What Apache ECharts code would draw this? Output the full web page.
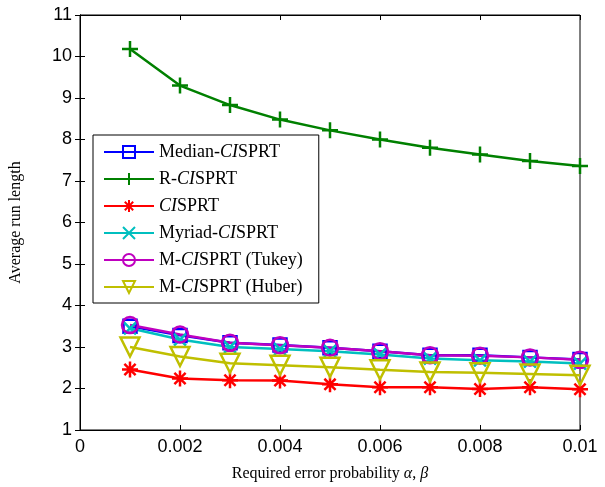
<!DOCTYPE html>
<html>
<head>
<meta charset="utf-8">
<script src="https://cdn.jsdelivr.net/npm/echarts@6/dist/echarts.min.js"></script>
<style>
  html, body { margin: 0; padding: 0; background: #fff; }
  #chart { width: 605px; height: 487px; }
</style>
</head>
<body>
<div id="chart"></div>
<script>
  // required error probability (x)
  const alphaVals = [0.001, 0.002, 0.003, 0.004, 0.005, 0.006, 0.007, 0.008, 0.009, 0.01];
  const xTicks = ['0', '0.002', '0.004', '0.006', '0.008', '0.01'];

  const medianData = [3.50, 3.28, 3.10, 3.05, 2.98, 2.90, 2.80, 2.80, 2.75, 2.70];
  const rData      = [10.18, 9.30, 8.83, 8.48, 8.22, 8.00, 7.80, 7.64, 7.48, 7.36];
  const ciData     = [2.46, 2.24, 2.20, 2.19, 2.10, 2.03, 2.03, 1.99, 2.03, 1.98];
  const myriadData = [3.45, 3.18, 3.00, 2.95, 2.90, 2.82, 2.72, 2.68, 2.65, 2.60];
  const tukeyData  = [3.53, 3.30, 3.10, 3.04, 2.98, 2.90, 2.80, 2.79, 2.75, 2.69];
  const huberData  = [3.00, 2.77, 2.61, 2.56, 2.51, 2.45, 2.40, 2.38, 2.35, 2.32];

  const names = ['Median-CISPRT', 'R-CISPRT', 'CISPRT', 'Myriad-CISPRT', 'M-CISPRT (Tukey)', 'M-CISPRT (Huber)'];

  let myChart = echarts.init(document.getElementById('chart'));

  function pairs(arr) {
    return arr.map((v, i) => [alphaVals[i], v]);
  }

  function mkSeries(name, data, color, symbol, size) {
    return {
      name: name,
      type: 'line',
      data: pairs(data),
      symbol: symbol,
      symbolSize: size,
      lineStyle: { color: color, width: 2.5 },
      itemStyle: { color: 'rgba(0,0,0,0)', borderColor: color, borderWidth: 2.5 },
      emphasis: { disabled: true },
      z: 2
    };
  }

  const plusPath = 'path://M0,-1L0,1M-1,0L1,0';
  const starPath = 'path://M0,-1L0,1M-1,0L1,0M-0.7,-0.7L0.7,0.7M-0.7,0.7L0.7,-0.7';
  const xPath = 'path://M-1,-1L1,1M-1,1L1,-1';
  const triPath = 'path://M-1,-0.9L1,-0.9L0,0.9Z';

  myChart.setOption({
    animation: false,
    grid: {
      left: 77, right: 25, top: 15, bottom: 56,
      show: true, borderColor: '#000', borderWidth: 1
    },
    legend: {
      orient: 'vertical',
      left: 93, top: 135,
      backgroundColor: '#fff',
      borderColor: '#000',
      borderWidth: 1,
      padding: [8, 16, 7, 10],
      itemWidth: 50,
      itemHeight: 15,
      itemGap: 9,
      data: names,
      formatter: function (n) {
        return n.replace('CI', '{ci|CI}');
      },
      textStyle: {
        fontFamily: 'Liberation Serif',
        fontSize: 18,
        lineHeight: 15,
        color: '#000',
        rich: {
          ci: { fontFamily: 'Liberation Serif', fontStyle: 'italic', fontSize: 18, lineHeight: 15, color: '#000' }
        }
      },
      z: 10
    },
    xAxis: [{
      type: 'value',
      min: 0, max: 0.01, interval: 0.002,
      name: 'Required error probability {it|α}, {it|β}',
      nameLocation: 'middle',
      nameGap: 36,
      nameTextStyle: {
        fontFamily: 'Liberation Serif', fontSize: 16, color: '#000',
        rich: { it: { fontFamily: 'Liberation Serif', fontStyle: 'italic', fontSize: 16, color: '#000' } }
      },
      axisLine: { show: true, lineStyle: { color: '#000' } },
      axisTick: { show: true, inside: true, length: 5, lineStyle: { color: '#000' } },
      axisLabel: {
        fontFamily: 'Liberation Sans', fontSize: 18, color: '#000', margin: 8,
        formatter: function (v, i) { return xTicks[i]; }
      },
      splitLine: { show: false }
    }, {
      type: 'value', position: 'top',
      min: 0, max: 0.01, interval: 0.002,
      axisLine: { show: true, lineStyle: { color: '#000' } },
      axisTick: { show: true, inside: true, length: 5, lineStyle: { color: '#000' } },
      axisLabel: { show: false },
      splitLine: { show: false }
    }],
    yAxis: [{
      type: 'value',
      min: 1, max: 11, interval: 1,
      name: 'Average run length',
      nameLocation: 'middle',
      nameGap: 56,
      nameTextStyle: { fontFamily: 'Liberation Serif', fontSize: 16, color: '#000' },
      axisLine: { show: true, lineStyle: { color: '#000' } },
      axisTick: { show: true, inside: true, length: 5, lineStyle: { color: '#000' } },
      axisLabel: { fontFamily: 'Liberation Sans', fontSize: 18, color: '#000', margin: 8 },
      splitLine: { show: false }
    }, {
      type: 'value', position: 'right',
      min: 1, max: 11, interval: 1,
      axisLine: { show: true, lineStyle: { color: '#000' } },
      axisTick: { show: true, inside: true, length: 5, lineStyle: { color: '#000' } },
      axisLabel: { show: false },
      splitLine: { show: false }
    }],
    series: [
      mkSeries(names[0], medianData, '#0000ff', 'rect', 13),
      mkSeries(names[1], rData, '#008000', plusPath, 16),
      mkSeries(names[2], ciData, '#ff0000', starPath, 16),
      mkSeries(names[3], myriadData, '#00bfbf', xPath, 12),
      mkSeries(names[4], tukeyData, '#bf00bf', 'circle', 16),
      mkSeries(names[5], huberData, '#bfbf00', triPath, 19)
    ]
  });
</script>
</body>
</html>
